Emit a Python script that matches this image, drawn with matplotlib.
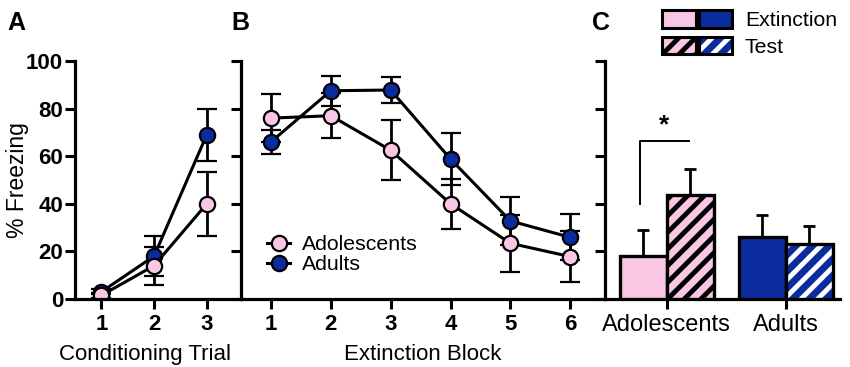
import matplotlib
matplotlib.use("Agg")
import matplotlib.pyplot as plt
import matplotlib.colors as mcolors
from matplotlib.legend_handler import HandlerTuple
import numpy as np

plt.rcParams['font.family'] = ['Liberation Sans', 'DejaVu Sans']
plt.rcParams['hatch.linewidth'] = 3.5

PINK = '#F9C6E4'
BLUE = '#0B2C9E'

# ---- Data ----
cond_trials = [1, 2, 3]
cond_adol = [1.5, 14, 40]
cond_adol_err = [1, 8, 13.4]
cond_adult = [3, 18, 69]
cond_adult_err = [1, 8.5, 11]

ext_blocks = [1, 2, 3, 4, 5, 6]
ext_adol = [76, 77, 62.5, 40, 23.4, 17.8]
ext_adol_err = [10, 9.5, 12.6, 10.5, 11.9, 10.8]
ext_adult = [66, 87.5, 87.8, 58.8, 32.8, 25.9]
ext_adult_err = [5, 6.3, 5.5, 11, 10.2, 9.7]

groups = ['Adolescents', 'Adults']
bar_extinction = [18, 26]
bar_extinction_err = [11, 9.5]
bar_test = [43.5, 23]
bar_test_err = [11, 7.8]

yticks = [0, 20, 40, 60, 80, 100]

fig = plt.figure(figsize=(8.5, 3.67), dpi=100)
bot, hgt = 0.1853, 0.6485
axA = fig.add_axes([75/850, bot, 166/850, hgt])
axB = fig.add_axes([241/850, bot, 364/850, hgt])
axC = fig.add_axes([605/850, bot, 235/850, hgt])

SP_LW = 2.3
for ax in (axA, axB, axC):
    ax.set_ylim(0, 100)
    ax.set_yticks(yticks)
    ax.spines['top'].set_visible(False)
    ax.spines['right'].set_visible(False)
    ax.spines['left'].set_linewidth(SP_LW)
    ax.spines['bottom'].set_linewidth(SP_LW)
    ax.tick_params(axis='both', direction='out', length=7, width=2.2,
                   labelsize=16)
    ax.tick_params(axis='x', pad=3.5)
    ax.tick_params(axis='y', pad=1.5)
    ax.patch.set_alpha(0)

line_kw = dict(color='black', lw=2.2, marker='o', markersize=11,
               markeredgecolor='black', markeredgewidth=1.6,
               ecolor='black', elinewidth=2.0, capsize=7, capthick=2.0)

# Panel A
axA.errorbar(cond_trials, cond_adult, yerr=cond_adult_err,
             markerfacecolor=BLUE, **line_kw)
axA.errorbar(cond_trials, cond_adol, yerr=cond_adol_err,
             markerfacecolor=PINK, **line_kw)
axA.set_xlim(0.5, 3.65)
axA.set_xticks(cond_trials)
for lab in axA.get_xticklabels() + axA.get_yticklabels():
    lab.set_fontweight('bold')
axA.set_ylabel('% Freezing', fontsize=16.5)
axA.yaxis.set_label_coords(-0.277, 0.5)
axA.set_xlabel('Conditioning Trial', fontsize=16)
axA.xaxis.set_label_coords(0.42, -0.19)

# Panel B
axB.errorbar(ext_blocks, ext_adult, yerr=ext_adult_err,
             markerfacecolor=BLUE, **line_kw)
axB.errorbar(ext_blocks, ext_adol, yerr=ext_adol_err,
             markerfacecolor=PINK, **line_kw)
axB.set_xlim(0.5, 6.58)
axB.set_xticks(ext_blocks)
axB.set_yticklabels([])
for lab in axB.get_xticklabels():
    lab.set_fontweight('bold')
axB.set_xlabel('Extinction Block', fontsize=16)
axB.xaxis.set_label_coords(0.5, -0.19)
h_adol, = axB.plot([], [], color='black', lw=2.2, marker='o', markersize=11,
                   markerfacecolor=PINK, markeredgecolor='black', markeredgewidth=1.6)
h_adult, = axB.plot([], [], color='black', lw=2.2, marker='o', markersize=11,
                    markerfacecolor=BLUE, markeredgecolor='black', markeredgewidth=1.6)
axB.legend([h_adol, h_adult], ['Adolescents', 'Adults'], loc='lower left',
           bbox_to_anchor=(0.071, 0.105), frameon=False, fontsize=15.3,
           handlelength=1.1, handletextpad=0.55, labelspacing=0.05,
           borderpad=0, borderaxespad=0)


def set_hatch_color(patch, color):
    if hasattr(patch, 'set_hatchcolor'):
        patch.set_hatchcolor(color)
    else:
        patch._hatch_color = mcolors.to_rgba(color)


# Panel C
x = np.arange(len(groups))
w = 0.395
cols = [PINK, BLUE]
hatch_cols = ['black', 'white']
ext_bars = axC.bar(x - w/2, bar_extinction, width=w, color=cols,
                   edgecolor='black', linewidth=2.4, zorder=3)
test_bars = axC.bar(x + w/2, bar_test, width=w, color=cols,
                    edgecolor='black', linewidth=2.4, hatch='//', zorder=3)
for b, hc in zip(test_bars, hatch_cols):
    set_hatch_color(b, hc)
err_kw = dict(fmt='none', ecolor='black', elinewidth=2.0, capsize=4.5,
              capthick=2.0, zorder=2)
axC.errorbar(x - w/2, bar_extinction,
             yerr=[np.zeros(len(x)), bar_extinction_err], **err_kw)
axC.errorbar(x + w/2, bar_test,
             yerr=[np.zeros(len(x)), bar_test_err], **err_kw)
axC.set_xlim(-0.52, 1.455)
axC.set_xticks(x)
axC.set_xticklabels(groups, fontsize=17)
axC.set_yticklabels([])

# significance bracket
axC.plot([-w/2 - 0.03, -w/2 - 0.03, w/2 - 0.01], [40, 66.5, 66.5],
         color='black', lw=1.4, zorder=4)
axC.text(-0.02, 73, '*', ha='center', va='center', fontsize=19,
         fontweight='bold')

# legend for C
leg_ext_p = axC.bar([0], [0], color=PINK, edgecolor='black', linewidth=2.2)[0]
leg_ext_b = axC.bar([0], [0], color=BLUE, edgecolor='black', linewidth=2.2)[0]
leg_tst_p = axC.bar([0], [0], color=PINK, edgecolor='black', linewidth=2.2, hatch='//')[0]
leg_tst_b = axC.bar([0], [0], color=BLUE, edgecolor='black', linewidth=2.2, hatch='//')[0]
set_hatch_color(leg_tst_p, 'black')
set_hatch_color(leg_tst_b, 'white')
axC.legend([(leg_ext_p, leg_ext_b), (leg_tst_p, leg_tst_b)],
           ['Extinction', 'Test'],
           handler_map={tuple: HandlerTuple(ndivide=None, pad=0.15)},
           loc='upper left', bbox_to_anchor=(0.243, 1.213), frameon=False,
           fontsize=15.3, handlelength=3.3, handleheight=0.9,
           handletextpad=0.6, labelspacing=0.3, borderpad=0, borderaxespad=0)

# panel letters
fig.text(0.009, 0.937, 'A', fontsize=18, fontweight='bold', va='center')
fig.text(0.272, 0.937, 'B', fontsize=18, fontweight='bold', va='center')
fig.text(0.696, 0.937, 'C', fontsize=18, fontweight='bold', va='center')

fig.savefig('out.png', dpi=100)
